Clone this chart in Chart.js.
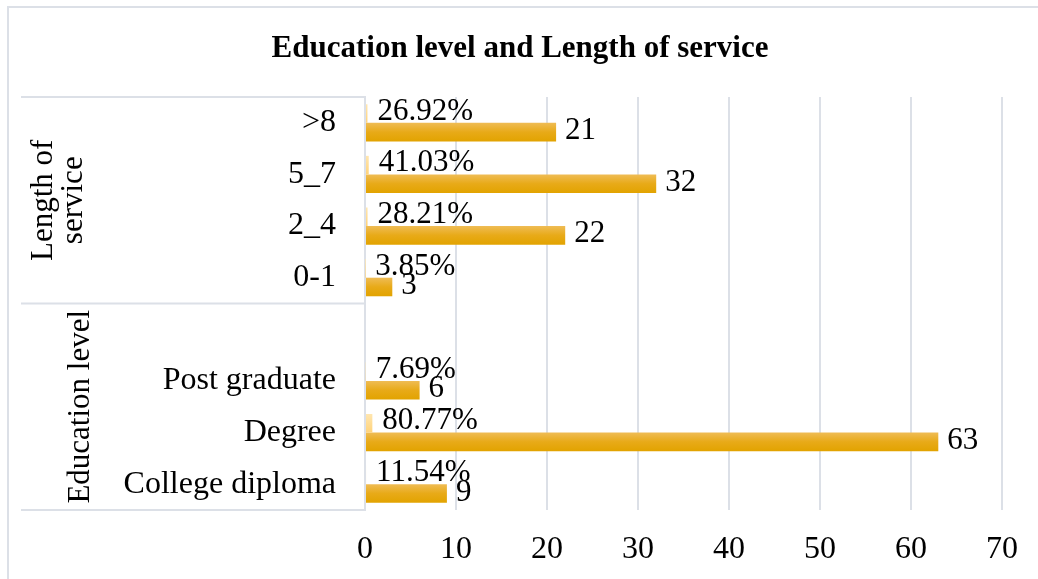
<!DOCTYPE html>
<html>
<head>
<meta charset="utf-8">
<title>Education level and Length of service</title>
<script src="https://cdn.jsdelivr.net/npm/chart.js@4.4.1/dist/chart.umd.min.js"></script>
<style>
    html, body { margin: 0; padding: 0; background: #fff; }
    canvas { display: block; }
</style>
</head>
<body>
<canvas id="grafico" width="1038" height="579"></canvas>
<script>
const titulo = 'Education level and Length of service';
const categorias = ['>8', '5_7', '2_4', '0-1', '', 'Post graduate', 'Degree', 'College diploma'];
const quantidades = [21, 32, 22, 3, null, 6, 63, 9];
const percentuais = [0.2692, 0.4103, 0.2821, 0.0385, null, 0.0769, 0.8077, 0.1154];
const grupos = [['Length of', 'service'], ['Education level']];
const tamanhoGrupos = [4, 4];
const eixoMax = 70;
const eixoPasso = 10;

const FONTE = '"Liberation Serif", "Times New Roman", serif';
const CINZA = '#DCE0E7';
const CAT_PCT = 0.72;

// vertical gradient inside each bar (upper bar = share, lower bar = count)
function gradiente(cores, superior) {
    return (context) => {
        const chart = context.chart;
        const y = chart.scales.y;
        if (!y || context.type !== 'data') return cores[cores.length - 1];
        const centro = y.getPixelForValue(context.dataIndex);
        const banda = y.getPixelForValue(1) - y.getPixelForValue(0);
        if (!isFinite(centro) || !isFinite(banda)) return cores[cores.length - 1];
        const h = banda * CAT_PCT / 2;
        const topo = superior ? centro - h : centro;
        const g = chart.ctx.createLinearGradient(0, topo, 0, topo + h);
        cores.forEach((c, i) => g.addColorStop(i / (cores.length - 1), c));
        return g;
    };
}

const moldura = {
    id: 'moldura',
    beforeDraw(chart) {
        const { ctx, chartArea } = chart;
        const y = chart.scales.y;
        ctx.save();
        ctx.strokeStyle = CINZA;
        ctx.lineWidth = 2;
        ctx.strokeRect(8, 7, chart.width + 10, chart.height + 10);

        ctx.fillStyle = '#000';
        ctx.textAlign = 'center';
        ctx.textBaseline = 'middle';
        ctx.font = 'bold 31px ' + FONTE;
        ctx.fillText(titulo, 520, 49);

        // boxes of the two category groups
        let inicio = 0;
        const limites = [chartArea.top];
        tamanhoGrupos.forEach((n, i) => {
            inicio += n;
            if (i < tamanhoGrupos.length - 1) {
                limites.push((y.getPixelForValue(inicio - 1) + y.getPixelForValue(inicio)) / 2);
            }
        });
        limites.push(chartArea.bottom);
        ctx.beginPath();
        limites.forEach(ly => {
            ctx.moveTo(21, ly);
            ctx.lineTo(chartArea.left, ly);
        });
        ctx.stroke();

        ctx.font = '31px ' + FONTE;
        ctx.textBaseline = 'alphabetic';
        const baseUltimaLinha = [82, 89];
        grupos.forEach((linhas, i) => {
            const meio = (limites[i] + limites[i + 1]) / 2;
            linhas.forEach((txt, j) => {
                const bx = baseUltimaLinha[i] - (linhas.length - 1 - j) * 30;
                ctx.save();
                ctx.translate(bx, meio);
                ctx.rotate(-Math.PI / 2);
                ctx.fillText(txt, 0, 0);
                ctx.restore();
            });
        });
        ctx.restore();
    }
};

const rotulos = {
    id: 'rotulos',
    afterDatasetsDraw(chart) {
        const ctx = chart.ctx;
        ctx.save();
        ctx.fillStyle = '#000';
        ctx.font = '31px ' + FONTE;
        ctx.textAlign = 'left';
        ctx.textBaseline = 'middle';
        chart.getDatasetMeta(0).data.forEach((bar, i) => {
            if (percentuais[i] == null) return;
            ctx.fillText((percentuais[i] * 100).toFixed(2) + '%', bar.x + 10, bar.y - 2);
        });
        chart.getDatasetMeta(1).data.forEach((bar, i) => {
            if (quantidades[i] == null) return;
            ctx.fillText(String(quantidades[i]), bar.x + 9, bar.y - 1);
        });
        ctx.restore();
    }
};

new Chart(document.getElementById('grafico'), {
    type: 'bar',
    data: {
        labels: categorias,
        datasets: [
            {
                label: 'Share',
                data: percentuais,
                backgroundColor: gradiente(['#FFE6B0', '#FFD37A'], true),
                categoryPercentage: CAT_PCT,
                barPercentage: 1,
                borderWidth: 0
            },
            {
                label: 'Count',
                data: quantidades,
                backgroundColor: gradiente(['#EFBC55', '#E8AA18', '#E2A300'], false),
                categoryPercentage: CAT_PCT,
                barPercentage: 1,
                borderWidth: 0
            }
        ]
    },
    options: {
        indexAxis: 'y',
        responsive: false,
        animation: false,
        devicePixelRatio: 1,
        layout: { padding: { left: 0, right: 32, top: 97, bottom: 0 } },
        plugins: {
            legend: { display: false },
            tooltip: { enabled: false },
            title: { display: false }
        },
        scales: {
            x: {
                min: 0,
                max: eixoMax,
                ticks: {
                    stepSize: eixoPasso,
                    color: '#000',
                    font: { family: FONTE, size: 32 },
                    padding: 20,
                    maxRotation: 0,
                    autoSkip: false
                },
                grid: { color: CINZA, lineWidth: 2, drawTicks: false },
                border: { display: false },
                afterFit: (s) => { s.height = 69; }
            },
            y: {
                ticks: {
                    color: '#000',
                    font: { family: FONTE, size: 32 },
                    padding: 29,
                    autoSkip: false
                },
                grid: { display: false, drawTicks: false },
                border: { display: true, color: CINZA, width: 2 },
                afterFit: (s) => { s.width = 365; }
            }
        }
    },
    plugins: [moldura, rotulos]
});
</script>
</body>
</html>
